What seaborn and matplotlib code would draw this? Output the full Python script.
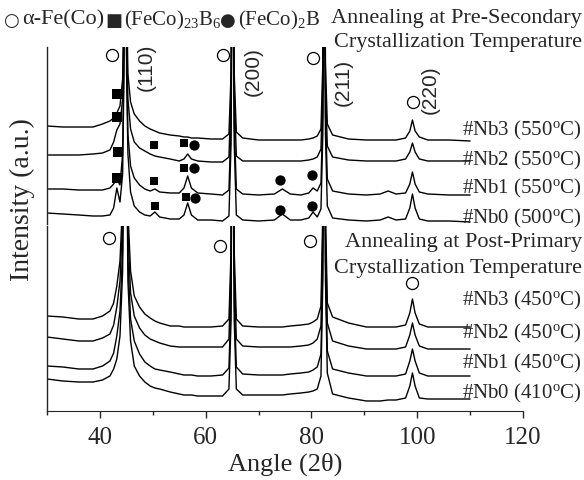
import matplotlib
matplotlib.use("Agg")
import matplotlib.pyplot as plt
from matplotlib.ticker import MultipleLocator
import seaborn as sns

# shared 2-theta grid (deg) for every pattern
ANGLE = [30, 33, 36, 38.7, 40.5,
         41.9, 42.6, 43.2, 43.8, 44.3,
         44.55, 44.8, 45.05, 45.3, 45.8,
         46.5, 47.5, 48.5, 49.5, 50.4,
         51.3, 53.3, 55.0, 55.9, 56.6,
         57.3, 58.5, 61, 63.2, 64.4,
         64.8, 65.1, 65.4, 65.8, 67,
         70, 73, 74.5, 76, 78,
         79.5, 80.3, 81.1, 81.8, 82.15,
         82.4, 82.65, 83.0, 84, 87,
         90.4, 93, 94.5, 96, 97.8,
         98.6, 99.1, 99.6, 100.4, 102,
         106, 110]

# upper block: annealed at pre-secondary crystallization temperature (offset, a.u.)
pre_nb3 = [98, 97, 97, 97, 100,
           103, 106, 111, 118, 145,
           230, 520, 230, 150, 122,
           110, 103, 98, 95, 93,
           91, 89, 88, 87, 87,
           86, 86, 85, 85, 90,
           150, 400, 150, 92, 86,
           84, 84, 84, 84, 84,
           85, 86, 88, 95, 160,
           400, 160, 100, 89, 85,
           84, 84, 84, 84, 86,
           93, 104, 93, 87, 84,
           84, 83]
pre_nb2 = [69, 69, 69, 70, 71,
           74, 82, 94, 100, 125,
           200, 500, 200, 125, 95,
           82, 76, 73, 70, 68,
           67, 65, 63, 65, 70,
           65, 63, 62, 62, 67,
           130, 380, 130, 68, 63,
           63, 63, 63, 63, 63,
           64, 65, 67, 75, 140,
           380, 140, 78, 67, 64,
           63, 63, 63, 63, 65,
           72, 81, 72, 65, 63,
           63, 63]
pre_nb1 = [35, 35, 34, 34, 34,
           36, 40, 45, 39, 70,
           170, 480, 170, 90, 58,
           46, 39, 35, 33, 35,
           32, 31, 31, 36, 48,
           36, 31, 30, 29, 34,
           100, 360, 100, 35, 30,
           29, 30, 35, 30, 29,
           31, 36, 33, 41, 110,
           360, 110, 45, 33, 30,
           29, 30, 33, 30, 31,
           40, 52, 40, 32, 30,
           29, 29]
pre_nb0 = [11, 10, 9, 8, 8,
           9, 16, 36, 22, 50,
           150, 460, 150, 70, 32,
           18, 12, 9, 8, 12,
           7, 5, 5, 9, 21,
           9, 4, 4, 3, 8,
           80, 340, 80, 9, 4,
           3, 4, 10, 4, 4,
           6, 12, 7, 15, 90,
           340, 90, 18, 6, 4,
           3, 4, 7, 4, 5,
           16, 30, 16, 5, 3,
           3, 2]

# lower block: annealed at post-primary crystallization temperature
post_nb3 = [95, 94, 92, 92, 95,
            100, 108, 125, 150, 210,
            350, 600, 350, 200, 140,
            115, 104, 97, 93, 90,
            88, 85, 85, 84, 84,
            84, 84, 84, 85, 92,
            160, 450, 160, 92, 85,
            84, 84, 84, 85, 86,
            87, 89, 92, 105, 200,
            450, 200, 108, 94, 88,
            84, 84, 84, 84, 86,
            98, 112, 98, 87, 84,
            84, 84]
post_nb2 = [74, 72, 70, 70, 73,
            77, 86, 104, 130, 190,
            330, 600, 330, 180, 118,
            95, 83, 76, 72, 70,
            68, 65, 64, 64, 64,
            64, 64, 64, 64, 72,
            140, 450, 140, 72, 65,
            64, 64, 64, 64, 65,
            66, 68, 72, 85, 180,
            450, 180, 88, 70, 65,
            62, 62, 62, 62, 64,
            76, 88, 76, 65, 62,
            62, 62]
post_nb1 = [45, 44, 42, 42, 45,
            50, 58, 75, 100, 160,
            300, 600, 300, 150, 92,
            70, 57, 49, 45, 42,
            41, 39, 37, 36, 36,
            36, 35, 35, 36, 43,
            110, 450, 110, 44, 37,
            36, 36, 36, 37, 38,
            39, 41, 44, 57, 150,
            450, 150, 60, 42, 38,
            35, 35, 35, 35, 37,
            50, 62, 50, 38, 35,
            35, 35]
post_nb0 = [32, 30, 29, 29, 31,
            35, 42, 52, 75, 140,
            280, 600, 280, 130, 70,
            45, 35, 29, 25, 23,
            22, 19, 17, 16, 16,
            16, 15, 15, 15, 22,
            90, 450, 90, 22, 16,
            16, 16, 16, 17, 18,
            19, 20, 22, 35, 130,
            450, 130, 38, 17, 13,
            10, 10, 11, 11, 13,
            25, 38, 25, 13, 12,
            12, 12]

pre_labels = ["#Nb3 (550$^{\\mathrm{o}}$C)", "#Nb2 (550$^{\\mathrm{o}}$C)",
              "#Nb1 (550$^{\\mathrm{o}}$C)", "#Nb0 (500$^{\\mathrm{o}}$C)"]
post_labels = ["#Nb3 (450$^{\\mathrm{o}}$C)", "#Nb2 (450$^{\\mathrm{o}}$C)",
               "#Nb1 (450$^{\\mathrm{o}}$C)", "#Nb0 (410$^{\\mathrm{o}}$C)"]

# phase markers (angle, offset intensity)
pre_afe_x = [42.3, 63.3, 80.3, 99.2]
pre_afe_y = [169, 169, 166, 122]
post_afe_x = [41.7, 62.7, 79.8, 99.0]
post_afe_y = [173, 165, 170, 128]
b6_big_x = [43.2, 43.3, 43.5, 43.2]
b6_big_y = [130, 107, 72, 46]
b6_x = [50.2, 50.2, 50.5, 55.9, 55.9, 56.2]
b6_y = [79, 43, 18, 81, 56, 27]
b2_x = [57.7, 57.7, 58.0, 74.1, 74.1, 80.1, 80.1]
b2_y = [79, 56, 26, 44, 14, 49, 18]

hkl_text = ["(110)", "(200)", "(211)", "(220)"]
hkl_x = [48.8, 69.0, 86.0, 102.5]
hkl_y = [158, 153, 143, 135]

sns.set_style("ticks")
plt.rcParams["font.family"] = ["Liberation Serif", "DejaVu Sans"]
plt.rcParams["mathtext.fontset"] = "custom"
plt.rcParams["mathtext.rm"] = "Liberation Serif"
plt.rcParams["mathtext.it"] = "Liberation Serif:italic"

W, H = 584, 481
fig = plt.figure(figsize=(W / 100, H / 100), dpi=100)


def px(x, y):
    return x / W, 1 - y / H


ax_top = fig.add_axes([47 / W, 1 - 225 / H, 476 / W, 177 / H])
ax_bot = fig.add_axes([47 / W, 1 - 412 / H, 476 / W, 185 / H])

for ax, traces, ymax in [(ax_top, [pre_nb3, pre_nb2, pre_nb1, pre_nb0], 177),
                         (ax_bot, [post_nb3, post_nb2, post_nb1, post_nb0], 185)]:
    for vals in traces:
        sns.lineplot(x=ANGLE, y=vals, ax=ax, color="black", linewidth=1.0,
                     estimator=None, sort=False)
    ax.set_xlim(30, 120)
    ax.set_ylim(0, ymax)
    ax.set_yticks([])
    ax.set_xlabel("")
    ax.set_ylabel("")
    for s in ["top", "right"]:
        ax.spines[s].set_visible(False)
    ax.spines["left"].set_linewidth(1.0)

ax_top.spines["bottom"].set_visible(False)
ax_top.set_xticks([])

ax_bot.xaxis.set_major_locator(MultipleLocator(20))
ax_bot.xaxis.set_minor_locator(MultipleLocator(10))
ax_bot.tick_params(axis="x", which="major", length=5, width=1, labelsize=18, pad=6)
ax_bot.tick_params(axis="x", which="minor", length=3, width=1)

# markers
sns.scatterplot(x=pre_afe_x, y=pre_afe_y, ax=ax_top, marker="o", s=75,
                facecolor="white", edgecolor="black", linewidth=0.9, zorder=5)
sns.scatterplot(x=post_afe_x, y=post_afe_y, ax=ax_bot, marker="o", s=75,
                facecolor="white", edgecolor="black", linewidth=0.9, zorder=5)
sns.scatterplot(x=b6_big_x, y=b6_big_y, ax=ax_top, marker="s", s=60,
                color="black", linewidth=0, zorder=5)
sns.scatterplot(x=b6_x, y=b6_y, ax=ax_top, marker="s", s=32,
                color="black", linewidth=0, zorder=5)
sns.scatterplot(x=b2_x, y=b2_y, ax=ax_top, marker="o", s=55,
                color="black", linewidth=0, zorder=5)

for t, x, y in zip(hkl_text, hkl_x, hkl_y):
    ax_top.text(x, y, t, rotation=90, ha="center", va="center", fontsize=15,
                family=["Liberation Sans", "DejaVu Sans"], clip_on=False)

# phase key along the top edge: symbol glyphs, then the phase names
key_symbols = [("\u25cb", 3), ("\u25a0", 105), ("\u25cf", 220)]
key_names = [("\u03b1-Fe(Co)", 22, 16), ("(FeCo)$_{\\mathrm{23}}$B$_{\\mathrm{6}}$", 124, 15),
             ("(FeCo)$_{\\mathrm{2}}$B", 238, 15)]
for t, x in key_symbols:
    fig.text(*px(x, 21), t, fontsize=13, ha="left", va="center", family="DejaVu Sans")
for t, x, fs in key_names:
    fig.text(*px(x, 20), t, fontsize=fs, ha="left", va="center")

fig.text(*px(582, 18), "Annealing at Pre-Secondary", fontsize=16, ha="right", va="center")
fig.text(*px(582, 43), "Crystallization Temperature", fontsize=16, ha="right", va="center")
fig.text(*px(582, 243), "Annealing at Post-Primary", fontsize=16, ha="right", va="center")
fig.text(*px(582, 268), "Crystallization Temperature", fontsize=16, ha="right", va="center")
for lab, y in zip(pre_labels, [130, 160, 188, 218]):
    fig.text(*px(582, y), lab, fontsize=15, ha="right", va="center")
for lab, y in zip(post_labels, [300, 333, 363, 393]):
    fig.text(*px(582, y), lab, fontsize=15, ha="right", va="center")

fig.text(*px(22, 200), "Intensity (a.u.)", fontsize=20, rotation=90,
         ha="center", va="center")
fig.text(*px(285, 464), "Angle (2\u03b8)", fontsize=19, ha="center", va="center")

fig.savefig("out.png", dpi=100)
